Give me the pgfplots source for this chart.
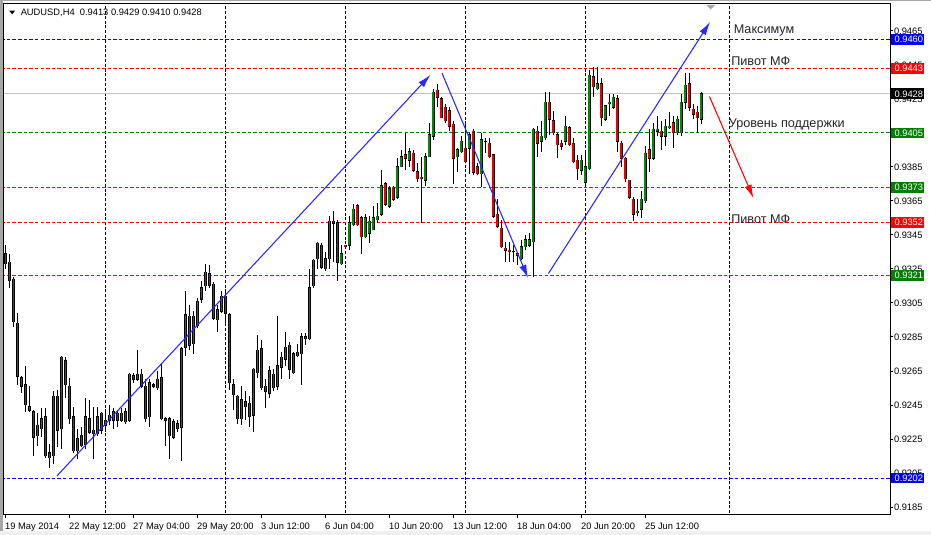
\documentclass[border=0pt]{standalone}
\usepackage{fontspec}
\setmainfont{Liberation Sans}
\usepackage{pgfplots}
\pgfplotsset{compat=1.18}
\usepackage{pgfplotstable}
\usetikzlibrary{arrows.meta}
\definecolor{mtgreen}{RGB}{0,128,0}
\definecolor{mtred}{RGB}{255,0,0}
\definecolor{candred}{RGB}{235,0,0}
\definecolor{candgreen}{RGB}{0,140,0}
\definecolor{mtblue}{RGB}{0,0,255}
\definecolor{arrowblue}{RGB}{40,40,255}
\definecolor{bidgray}{RGB}{192,192,192}

% bullish candles: bar index, open, high, low, close
\pgfplotstableread{
i o h l c
8 0.9227 0.9240 0.9221 0.9233
9 0.9231 0.9243 0.9226 0.9237
12 0.9215 0.9253 0.9210 0.9250
14 0.9231 0.9274 0.9219 0.9273
18 0.9218 0.9231 0.9213 0.9225
20 0.9222 0.9249 0.9219 0.9238
22 0.9228 0.9244 0.9213 0.9230
23 0.9228 0.9244 0.9227 0.9238
25 0.9233 0.9242 0.9229 0.9236
26 0.9236 0.9245 0.9233 0.9239
27 0.9236 0.9243 0.9231 0.9241
29 0.9236 0.9243 0.9235 0.9240
31 0.9236 0.9264 0.9235 0.9263
33 0.9260 0.9277 0.9259 0.9263
36 0.9238 0.9260 0.9232 0.9258
38 0.9255 0.9265 0.9254 0.9260
42 0.9226 0.9237 0.9225 0.9235
44 0.9232 0.9279 0.9212 0.9278
45 0.9279 0.9312 0.9274 0.9298
47 0.9281 0.9300 0.9275 0.9297
48 0.9292 0.9308 0.9290 0.9306
49 0.9307 0.9318 0.9305 0.9314
50 0.9315 0.9328 0.9312 0.9323
53 0.9295 0.9304 0.9288 0.9301
54 0.9300 0.9312 0.9299 0.9309
59 0.9237 0.9256 0.9233 0.9248
62 0.9239 0.9267 0.9229 0.9266
63 0.9264 0.9286 0.9261 0.9277
66 0.9252 0.9268 0.9249 0.9265
68 0.9256 0.9297 0.9254 0.9268
69 0.9267 0.9276 0.9260 0.9273
70 0.9272 0.9288 0.9268 0.9279
72 0.9264 0.9276 0.9263 0.9275
74 0.9275 0.9287 0.9257 0.9285
76 0.9284 0.9325 0.9283 0.9314
77 0.9315 0.9331 0.9314 0.9330
78 0.9331 0.9341 0.9325 0.9340
80 0.9325 0.9335 0.9324 0.9331
81 0.9331 0.9356 0.9325 0.9353
84 0.9328 0.9339 0.9327 0.9334
86 0.9339 0.9356 0.9336 0.9352
87 0.9351 0.9363 0.9350 0.9360
90 0.9344 0.9357 0.9343 0.9355
91 0.9346 0.9356 0.9340 0.9353
92 0.9348 0.9362 0.9348 0.9355
93 0.9354 0.9364 0.9352 0.9356
94 0.9357 0.9383 0.9356 0.9374
96 0.9362 0.9374 0.9361 0.9372
98 0.9367 0.9390 0.9366 0.9385
99 0.9385 0.9395 0.9385 0.9391
101 0.9389 0.9396 0.9385 0.9394
105 0.9377 0.9393 0.9374 0.9391
106 0.9391 0.9411 0.9391 0.9404
107 0.9403 0.9431 0.9401 0.9429
113 0.9391 0.9396 0.9382 0.9395
114 0.9394 0.9403 0.9393 0.9400
116 0.9396 0.9405 0.9381 0.9404
119 0.9381 0.9405 0.9373 0.9401
120 0.9400 0.9402 0.9393 0.9400
127 0.9335 0.9339 0.9329 0.9335
129 0.9331 0.9342 0.9330 0.9338
130 0.9338 0.9345 0.9336 0.9342
131 0.9339 0.9346 0.9338 0.9342
132 0.9341 0.9408 0.9320 0.9407
134 0.9400 0.9412 0.9394 0.9403
135 0.9402 0.9429 0.9401 0.9423
140 0.9400 0.9415 0.9398 0.9409
144 0.9383 0.9392 0.9380 0.9389
145 0.9376 0.9393 0.9373 0.9385
146 0.9384 0.9442 0.9383 0.9439
148 0.9431 0.9444 0.9430 0.9434
150 0.9413 0.9421 0.9412 0.9421
151 0.9422 0.9428 0.9415 0.9423
152 0.9420 0.9428 0.9419 0.9426
158 0.9358 0.9366 0.9356 0.9359
159 0.9360 0.9371 0.9355 0.9366
160 0.9365 0.9397 0.9364 0.9393
162 0.9390 0.9411 0.9389 0.9407
163 0.9406 0.9415 0.9403 0.9407
165 0.9403 0.9413 0.9397 0.9409
166 0.9408 0.9417 0.9407 0.9409
168 0.9405 0.9415 0.9404 0.9413
169 0.9405 0.9428 0.9403 0.9423
170 0.9423 0.9440 0.9419 0.9433
174 0.9413 0.9429 0.9410 0.9428
}\bull

% bearish candles: bar index, open, high, low, close
\pgfplotstableread{
i o h l c
0 0.9334 0.9339 0.9325 0.9328
1 0.9329 0.9334 0.9314 0.9318
2 0.9319 0.9320 0.9291 0.9294
3 0.9293 0.9299 0.9257 0.9262
4 0.9261 0.9262 0.9252 0.9256
5 0.9257 0.9268 0.9241 0.9245
6 0.9244 0.9256 0.9241 0.9242
7 0.9241 0.9242 0.9215 0.9226
10 0.9238 0.9243 0.9214 0.9215
11 0.9217 0.9222 0.9208 0.9214
13 0.9250 0.9254 0.9220 0.9230
15 0.9271 0.9273 0.9249 0.9257
16 0.9256 0.9261 0.9234 0.9237
17 0.9238 0.9244 0.9217 0.9218
19 0.9227 0.9232 0.9220 0.9221
21 0.9237 0.9248 0.9228 0.9229
24 0.9240 0.9241 0.9228 0.9230
28 0.9240 0.9242 0.9232 0.9236
30 0.9241 0.9243 0.9234 0.9235
32 0.9262 0.9264 0.9258 0.9260
34 0.9263 0.9266 0.9255 0.9256
35 0.9256 0.9260 0.9235 0.9237
37 0.9257 0.9258 0.9255 0.9256
39 0.9261 0.9269 0.9236 0.9237
40 0.9237 0.9238 0.9221 0.9236
41 0.9237 0.9238 0.9213 0.9227
43 0.9234 0.9236 0.9229 0.9231
46 0.9297 0.9304 0.9277 0.9280
51 0.9322 0.9327 0.9314 0.9315
52 0.9316 0.9317 0.9295 0.9296
55 0.9309 0.9312 0.9292 0.9299
56 0.9298 0.9299 0.9254 0.9258
57 0.9257 0.9260 0.9242 0.9251
58 0.9250 0.9251 0.9234 0.9237
60 0.9247 0.9253 0.9236 0.9244
61 0.9246 0.9250 0.9232 0.9238
64 0.9278 0.9283 0.9254 0.9255
65 0.9256 0.9260 0.9243 0.9253
67 0.9263 0.9266 0.9253 0.9255
71 0.9280 0.9282 0.9260 0.9266
73 0.9276 0.9281 0.9273 0.9274
75 0.9285 0.9287 0.9280 0.9284
79 0.9339 0.9340 0.9325 0.9326
82 0.9353 0.9359 0.9329 0.9352
83 0.9352 0.9354 0.9318 0.9329
85 0.9339 0.9339 0.9337 0.9338
88 0.9362 0.9363 0.9350 0.9351
89 0.9355 0.9356 0.9334 0.9344
95 0.9375 0.9376 0.9362 0.9363
97 0.9373 0.9374 0.9365 0.9366
100 0.9392 0.9405 0.9383 0.9390
102 0.9393 0.9395 0.9382 0.9383
103 0.9382 0.9387 0.9376 0.9378
104 0.9379 0.9391 0.9352 0.9378
108 0.9430 0.9434 0.9420 0.9426
109 0.9425 0.9426 0.9414 0.9414
110 0.9420 0.9422 0.9411 0.9412
111 0.9418 0.9420 0.9406 0.9409
112 0.9410 0.9412 0.9375 0.9390
115 0.9396 0.9410 0.9387 0.9388
117 0.9406 0.9407 0.9380 0.9382
118 0.9385 0.9387 0.9380 0.9381
121 0.9399 0.9402 0.9390 0.9391
122 0.9392 0.9392 0.9355 0.9356
123 0.9357 0.9366 0.9349 0.9350
124 0.9349 0.9354 0.9337 0.9338
125 0.9337 0.9341 0.9329 0.9336
126 0.9336 0.9341 0.9329 0.9335
128 0.9334 0.9335 0.9327 0.9333
133 0.9406 0.9409 0.9391 0.9399
136 0.9423 0.9429 0.9404 0.9413
137 0.9412 0.9418 0.9404 0.9405
138 0.9404 0.9405 0.9390 0.9398
139 0.9399 0.9401 0.9395 0.9397
141 0.9408 0.9409 0.9397 0.9398
142 0.9399 0.9402 0.9387 0.9388
143 0.9389 0.9392 0.9377 0.9384
147 0.9438 0.9444 0.9426 0.9432
149 0.9434 0.9437 0.9409 0.9414
153 0.9425 0.9427 0.9394 0.9400
154 0.9399 0.9400 0.9385 0.9390
155 0.9390 0.9391 0.9376 0.9378
156 0.9377 0.9377 0.9366 0.9367
157 0.9366 0.9367 0.9353 0.9357
161 0.9395 0.9407 0.9382 0.9390
164 0.9406 0.9412 0.9395 0.9403
167 0.9411 0.9415 0.9396 0.9405
171 0.9434 0.9440 0.9418 0.9420
172 0.9419 0.9422 0.9413 0.9416
173 0.9417 0.9421 0.9405 0.9414
}\bear

\pgfplotsset{
  level/.style={#1, line width=0.75pt, dash pattern=on 2.6pt off 1.6pt},
  vgrid/.style={black, line width=0.6pt, dash pattern=on 2.2pt off 1.4pt},
}

\newcommand{\pricebox}[3]{%
  \fill[#2] (891,#1-5.3) rectangle (924,#1+5.3);
  \node[anchor=west, inner sep=0pt, text=white, font=\fontsize{7}{8}\selectfont] at (894.3,#1) {#3};}

\begin{document}
\begin{tikzpicture}
\fill[white] (0,0) rectangle (698.25pt,401.25pt);
\useasboundingbox (0,0) rectangle (698.25pt,401.25pt);
\begin{scope}[x=0.75pt,y=-0.75pt,yshift=401.25pt]
  \fill[black!35] (0,0) rectangle (2.5,535);
  \fill[black!35] (0,0) rectangle (931,1.5);
  \fill[black!6] (0,531) rectangle (931,535);
\end{scope}

\begin{axis}[
  at={(3pt,15pt)}, anchor=south west, scale only axis,
  width=664.5pt, height=383.25pt,
  xmin=-0.325, xmax=221.2, ymin=0.918024, ymax=0.948082,
  axis line style={black, line width=0.75pt},
  font=\fontsize{7}{8.4}\selectfont,
  /pgf/number format/assume math mode=true,
  scaled y ticks=false,
  xtick={0,16,32,48,64,80,96,112,128,144,160},
  xticklabels={19 May 2014,22 May 12:00,27 May 04:00,29 May 20:00,3 Jun 12:00,6 Jun 04:00,10 Jun 20:00,13 Jun 12:00,18 Jun 04:00,20 Jun 20:00,25 Jun 12:00},
  xtick pos=left, ytick pos=right, yticklabel pos=right,
  tick align=outside, major tick length=2.6pt,
  every tick/.style={black, line width=0.6pt},
  ytick={0.9185,0.9205,0.9225,0.9245,0.9265,0.9285,0.9305,0.9325,0.9345,0.9365,0.9385,0.9405,0.9425,0.9445,0.9465},
  yticklabel style={/pgf/number format/fixed, /pgf/number format/fixed zerofill, /pgf/number format/precision=4, anchor=west, inner sep=0pt, xshift=0.2pt},
  xticklabel style={anchor=north west, inner sep=0pt, yshift=-3.2pt, xshift=-0.3pt},
]
% vertical grid
\pgfplotsinvokeforeach{25,55,85,115,145,181}{
  \addplot[vgrid] coordinates {(#1,0.917) (#1,0.949)};
}
% bid line and levels
\addplot[bidgray, line width=0.75pt] coordinates {(-1,0.9428) (222,0.9428)};
\addplot[level=mtblue] coordinates {(-1,0.9460) (222,0.9460)};
\addplot[level=mtred] coordinates {(-1,0.9443) (222,0.9443)};
\addplot[level=mtgreen] coordinates {(-1,0.9405) (222,0.9405)};
\addplot[level=mtgreen] coordinates {(-1,0.9373) (222,0.9373)};
\addplot[level=mtred] coordinates {(-1,0.9352) (222,0.9352)};
\addplot[level=mtgreen] coordinates {(-1,0.9321) (222,0.9321)};
\addplot[level=mtblue] coordinates {(-1,0.9202) (222,0.9202)};

% wicks
\addplot[black, line width=0.75pt, line cap=butt, quiver={u=0, v=\thisrow{h}-\thisrow{l}}] table[x=i, y=l] {\bull};
\addplot[black, line width=0.75pt, line cap=butt, quiver={u=0, v=\thisrow{h}-\thisrow{l}}] table[x=i, y=l] {\bear};
% bodies (outline)
\addplot[black, line width=2.2pt, line cap=butt, quiver={u=0, v=\thisrow{c}-\thisrow{o}+0.00006}] table[x=i, y expr=\thisrow{o}-0.00003] {\bull};
\addplot[black, line width=2.2pt, line cap=butt, quiver={u=0, v=\thisrow{o}-\thisrow{c}+0.00006}] table[x=i, y expr=\thisrow{c}-0.00003] {\bear};
% bodies (fill)
\addplot[candgreen, line width=1.15pt, line cap=butt, quiver={u=0, v=\thisrow{c}-\thisrow{o}}] table[x=i, y=o] {\bull};
\addplot[candred, line width=1.15pt, line cap=butt, quiver={u=0, v=\thisrow{o}-\thisrow{c}}] table[x=i, y=c] {\bear};

% trend arrows
\addplot[arrowblue, line width=0.8pt, -{Latex[length=10pt,width=5.5pt]}] coordinates {(12.9,0.92032) (106.3,0.94391)};
\addplot[arrowblue, line width=0.8pt, -{Latex[length=10pt,width=5.5pt]}] coordinates {(109.2,0.94401) (130.7,0.93196)};
\addplot[arrowblue, line width=0.8pt, -{Latex[length=10pt,width=5.5pt]}] coordinates {(135.8,0.93223) (176.2,0.94702)};
\addplot[mtred, line width=0.8pt, -{Latex[length=10pt,width=5.5pt]}] coordinates {(176.05,0.94264) (187.05,0.93667)};
\end{axis}

\begin{scope}[x=0.75pt,y=-0.75pt,yshift=401.25pt]
  % price labels on the right scale
  \pricebox{39.4}{mtblue}{0.9460}
  \pricebox{68.3}{mtred}{0.9443}
  \pricebox{93.8}{black}{0.9428}
  \pricebox{132.9}{mtgreen}{0.9405}
  \pricebox{187.3}{mtgreen}{0.9373}
  \pricebox{222.6}{mtred}{0.9352}
  \pricebox{275.7}{mtgreen}{0.9321}
  \pricebox{478}{mtblue}{0.9202}
  % annotations
  \begin{scope}[every node/.style={anchor=west, inner sep=0pt, text=black!85, font=\fontsize{9.5}{11}\selectfont}]
    \node at (733.5,30.5) {Максимум};
    \node at (731,61.5) {Пивот МФ};
    \node at (728.5,124) {Уровень поддержки};
    \node at (731,219) {Пивот МФ};
  \end{scope}
  % chart shift marker
  \fill[black!35] (706.5,5) -- (715,5) -- (710.75,9.5) -- cycle;
  % title
  \fill[black] (9.3,10.7) -- (15,10.7) -- (12.15,14.3) -- cycle;
  \node[anchor=west, inner sep=0pt, font=\fontsize{7}{8.4}\selectfont] at (20.5,13) {AUDUSD,H4\ \ 0.9413 0.9429 0.9410 0.9428};
\end{scope}
\end{tikzpicture}
\end{document}
